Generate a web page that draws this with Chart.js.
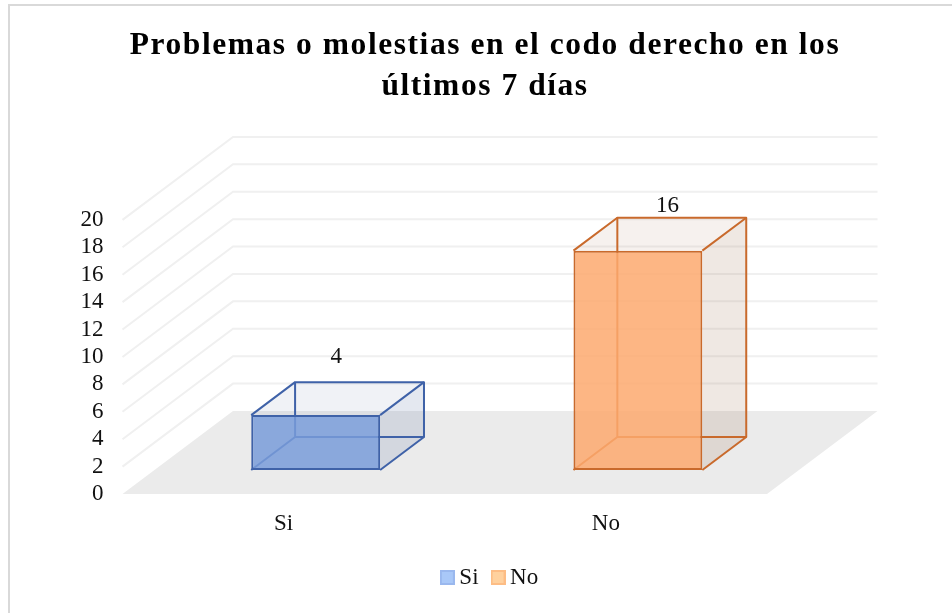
<!DOCTYPE html>
<html>
<head>
<meta charset="utf-8">
<script src="https://cdn.jsdelivr.net/npm/chart.js@4/dist/chart.umd.min.js"></script>
<style>
    html, body { margin: 0; padding: 0; background: #fff; }
    canvas { display: block; }
</style>
</head>
<body>
<canvas id="codo-chart" width="952" height="613"></canvas>
<script>
//DATA
var categories = ['Si', 'No']
var values = [4, 16]
var titleLines = ['Problemas o molestias en el codo derecho en los', 'últimos 7 días']
var yMax = 20
var yStep = 2

//COLORS
var frontColors = ['rgba(121,156,217,0.85)', 'rgba(253,169,110,0.85)']
var edgeColors = ['#3f62a8', '#c96a2c']
var topColors = ['rgba(90,110,160,0.09)', 'rgba(150,100,70,0.09)']
var sideColors = ['rgba(90,110,160,0.16)', 'rgba(150,100,70,0.15)']
var legendFills = ['#a9c8f8', '#ffd19e']
var legendEdges = ['#9ab8ee', '#fdbd85']

//3D box settings: how far the back wall is moved from the front of the axis
const depthX = 110.5
const depthY = 83
const barNear = 0.29
const barFar = 0.687
const labelNudge = [[20.5, -58.5], [29.5, -45]]
const serif = '"Liberation Serif", serif'

function legendSwatch(i) {
    var c = document.createElement('canvas')
    c.width = 15
    c.height = 15
    var g = c.getContext('2d')
    g.fillStyle = legendFills[i]
    g.strokeStyle = legendEdges[i]
    g.lineWidth = 2
    g.fillRect(1, 1, 13, 13)
    g.strokeRect(1, 1, 13, 13)
    return c
}

function polygon(ctx, points) {
    ctx.beginPath()
    points.forEach((p, i) => i === 0 ? ctx.moveTo(p[0], p[1]) : ctx.lineTo(p[0], p[1]))
    ctx.closePath()
}

function barCorners(bar) {
    var p = bar.getProps(['x', 'y', 'base', 'width'], true)
    return {
        left: p.x - p.width / 2,
        right: p.x + p.width / 2,
        top: p.y,
        base: p.base,
        nearX: depthX * barNear,
        nearY: -depthY * barNear,
        farX: depthX * barFar,
        farY: -depthY * barFar
    }
}

//Draws the outer frame, the floor and the walls of the 3D plot
const walls = {
    id: 'walls',
    beforeDraw(chart) {
        var ctx = chart.ctx
        ctx.save()
        ctx.strokeStyle = '#d9d9d9'
        ctx.lineWidth = 2
        ctx.beginPath()
        ctx.moveTo(9, 613)
        ctx.lineTo(9, 5)
        ctx.lineTo(952, 5)
        ctx.stroke()
        ctx.restore()
    },
    beforeDatasetsDraw(chart) {
        var ctx = chart.ctx
        var x = chart.scales.x
        var y = chart.scales.y
        var floor = y.getPixelForValue(0)
        ctx.save()
        ctx.fillStyle = '#ebebeb'
        polygon(ctx, [[x.left, floor], [x.right, floor], [x.right + depthX, floor - depthY], [x.left + depthX, floor - depthY]])
        ctx.fill()
        ctx.strokeStyle = '#f0f0f0'
        ctx.lineWidth = 2
        y.ticks.forEach(tick => {
            if (tick.value === 0) return
            var py = y.getPixelForValue(tick.value)
            ctx.beginPath()
            ctx.moveTo(x.left, py)
            ctx.lineTo(x.left + depthX, py - depthY)
            ctx.lineTo(x.right + depthX, py - depthY)
            ctx.stroke()
        })
        ctx.restore()
    }
}

//The library draws the front face of each bar, this adds the rest of the box behind it
const boxes = {
    id: 'boxes',
    beforeDatasetDraw(chart, args) {
        var ctx = chart.ctx
        args.meta.data.forEach((bar, i) => {
            var c = barCorners(bar)
            var nl = c.left + c.nearX, nr = c.right + c.nearX
            var fl = c.left + c.farX, fr = c.right + c.farX
            var nt = c.top + c.nearY, nb = c.base + c.nearY
            var ft = c.top + c.farY, fb = c.base + c.farY
            ctx.save()
            ctx.fillStyle = topColors[i]
            polygon(ctx, [[nl, nt], [nr, nt], [fr, ft], [fl, ft]])
            ctx.fill()
            polygon(ctx, [[nr, nt], [fr, ft], [fr, fb], [nr, nb]])
            ctx.fillStyle = sideColors[i]
            ctx.fill()
            ctx.strokeStyle = edgeColors[i]
            ctx.lineWidth = 2
            ctx.lineJoin = 'round'
            //back rectangle
            ctx.strokeRect(fl, ft, fr - fl, fb - ft)
            //edges going to the back
            ctx.beginPath()
            ctx.moveTo(nl, nt); ctx.lineTo(fl, ft)
            ctx.moveTo(nr, nt); ctx.lineTo(fr, ft)
            ctx.moveTo(nl, nb); ctx.lineTo(fl, fb)
            ctx.moveTo(nr, nb); ctx.lineTo(fr, fb)
            ctx.stroke()
            ctx.restore()
        })
        ctx.save()
        ctx.translate(depthX * barNear, -depthY * barNear)
    },
    afterDatasetDraw(chart, args) {
        var ctx = chart.ctx
        ctx.restore()
        ctx.save()
        ctx.fillStyle = '#111'
        ctx.font = '23px ' + serif
        ctx.textAlign = 'center'
        ctx.textBaseline = 'middle'
        args.meta.data.forEach((bar, i) => {
            var c = barCorners(bar)
            var middle = (c.left + c.right) / 2 + c.nearX
            ctx.fillText(String(values[i]), middle + labelNudge[i][0], c.top + c.nearY + labelNudge[i][1])
        })
        ctx.restore()
    }
}

//Title and legend are centred a bit to the right of the plot area, and the title is letter spaced
const centering = {
    id: 'centering',
    afterLayout(chart) {
        var block = chart.titleBlock
        block.left = 0
        block.right = 970
        chart.legend.left = 0
        chart.legend.right = 985
        if (block.spaced) return
        block.spaced = true
        var drawTitle = block.draw
        block.draw = function () {
            chart.ctx.letterSpacing = '1.55px'
            drawTitle.call(block)
            chart.ctx.letterSpacing = '0px'
        }
    }
}

var ctxCodo = document.getElementById('codo-chart').getContext('2d')

let codoChart = new Chart(ctxCodo, {
    type: 'bar',
    data: {
        labels: categories,
        datasets: [{
            data: values,
            backgroundColor: frontColors,
            borderColor: edgeColors,
            borderWidth: 2,
            borderSkipped: false,
            categoryPercentage: 1,
            barPercentage: 0.4,
            clip: false
        }]
    },
    options: {
        responsive: false,
        animation: false,
        layout: {
            padding: { left: 0, right: 185, top: 0, bottom: 14 }
        },
        scales: {
            x: {
                grid: { display: false },
                border: { display: false },
                ticks: {
                    padding: 8,
                    color: '#111',
                    font: { family: serif, size: 23 },
                    maxRotation: 0
                },
                afterFit(scale) { scale.height = 53 }
            },
            y: {
                min: 0,
                max: yMax,
                grid: { display: false },
                border: { display: false },
                ticks: {
                    stepSize: yStep,
                    autoSkip: false,
                    padding: 11,
                    color: '#111',
                    font: { family: serif, size: 23 }
                },
                afterFit(scale) { scale.width = 122.5 }
            }
        },
        plugins: {
            title: {
                display: true,
                text: titleLines,
                color: '#000',
                font: { family: serif, size: 31.5, weight: 'bold', lineHeight: 1.3 },
                padding: { top: 25, bottom: 113 }
            },
            legend: {
                position: 'bottom',
                labels: {
                    usePointStyle: true,
                    pointStyleWidth: 1,
                    padding: 19,
                    color: '#111',
                    font: { family: serif, size: 23 },
                    generateLabels() {
                        return categories.map((name, i) => ({
                            text: name,
                            pointStyle: legendSwatch(i),
                            fontColor: '#111',
                            index: i
                        }))
                    }
                }
            },
            tooltip: { enabled: false }
        }
    },
    plugins: [walls, boxes, centering]
})
</script>
</body>
</html>
